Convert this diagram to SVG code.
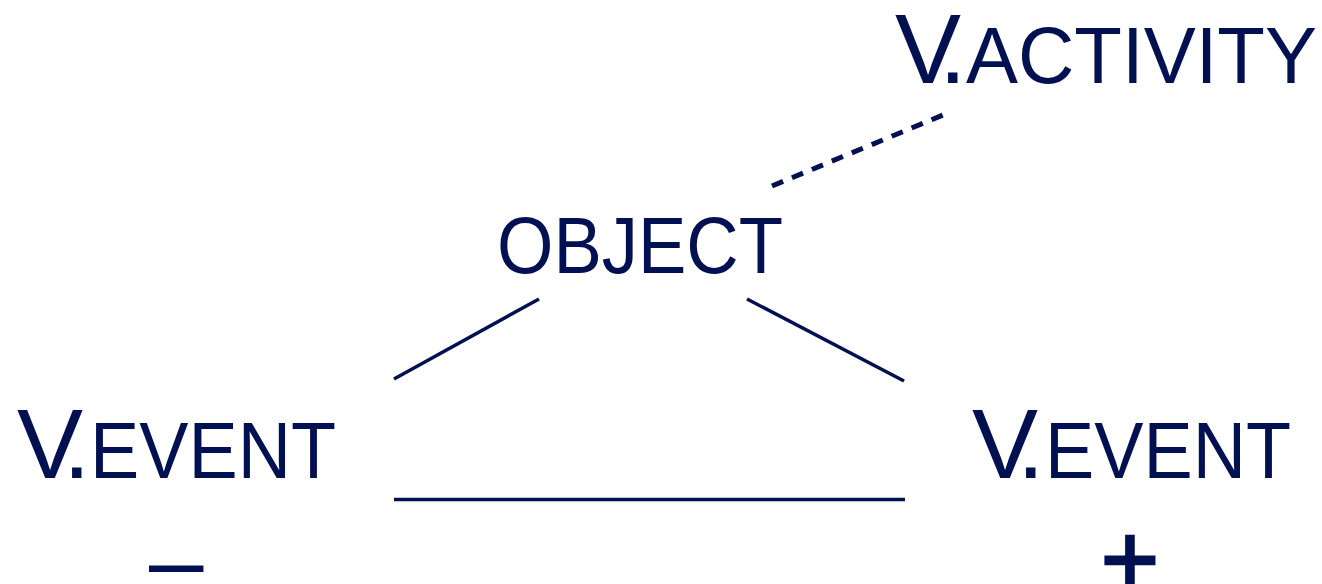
<svg xmlns="http://www.w3.org/2000/svg" width="1322" height="584" viewBox="0 0 1322 584">
<style>
text { font-family: "Liberation Sans", Arial, sans-serif; fill: #001050; }
.big { font-size: 99px; }
.sc { font-size: 80px; }
.minus { font-size: 98px; }
.plus { font-size: 100px; stroke: #001050; stroke-width: 2.5px; }
.conn { stroke: #001050; stroke-width: 3.5; fill: none; }
.dash { stroke: #001050; stroke-width: 5; fill: none; stroke-dasharray: 12 9.6; }
</style>
<rect width="1322" height="584" fill="#ffffff"/>
<g id="connectors">
  <line class="conn" x1="394" y1="379" x2="539" y2="299"/>
  <line class="conn" x1="747" y1="299" x2="904" y2="381"/>
  <line class="conn" x1="394" y1="499.5" x2="905" y2="499.5"/>
  <line class="dash" x1="772" y1="186" x2="943" y2="115"/>
</g>
<g id="v-activity">
  <text><tspan class="big" x="895 939" y="83">V.</tspan><tspan class="sc" x="966" y="83" textLength="351" lengthAdjust="spacingAndGlyphs">ACTIVITY</tspan></text>
</g>
<g id="object">
  <text class="sc" x="497" y="273" textLength="286" lengthAdjust="spacingAndGlyphs">OBJECT</text>
</g>
<g id="v-event-minus">
  <text><tspan class="big" x="17 63" y="478">V.</tspan><tspan class="sc" x="90" y="478" textLength="246" lengthAdjust="spacingAndGlyphs">EVENT</tspan></text>
  <text class="minus" x="149" y="594">–</text>
</g>
<g id="v-event-plus">
  <text><tspan class="big" x="972 1017" y="478">V.</tspan><tspan class="sc" x="1045" y="478" textLength="246" lengthAdjust="spacingAndGlyphs">EVENT</tspan></text>
  <text class="plus" x="1130" y="594" text-anchor="middle">+</text>
</g>
</svg>
